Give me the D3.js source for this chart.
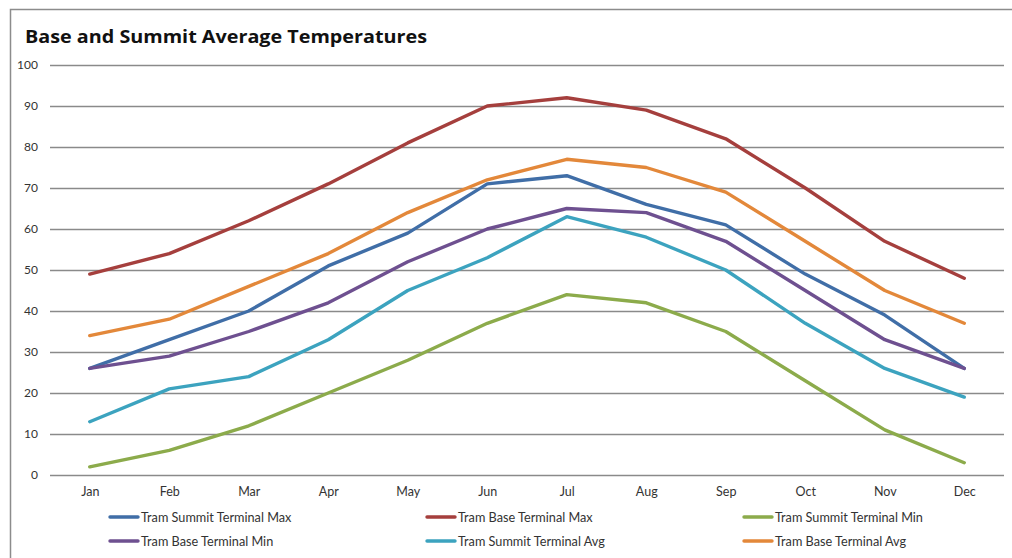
<!DOCTYPE html>
<html>
<head>
<meta charset="utf-8">
<script src="https://cdn.jsdelivr.net/npm/d3@7"></script>
<style>
  html, body { margin: 0; padding: 0; background: #fff; }
  svg { display: block; }
</style>
</head>
<body>
<script>
// Monthly average temperatures (°F) at the tram base and summit terminals
const months = ["Jan","Feb","Mar","Apr","May","Jun","Jul","Aug","Sep","Oct","Nov","Dec"];
const summitMax = [26, 33, 40, 51, 59, 71, 73, 66, 61, 49, 39, 26];
const baseMax   = [49, 54, 62, 71, 81, 90, 92, 89, 82, 70, 57, 48];
const summitMin = [2, 6, 12, 20, 28, 37, 44, 42, 35, 23, 11, 3];
const baseMin   = [26, 29, 35, 42, 52, 60, 65, 64, 57, 45, 33, 26];
const summitAvg = [13, 21, 24, 33, 45, 53, 63, 58, 50, 37, 26, 19];
const baseAvg   = [34, 38, 46, 54, 64, 72, 77, 75, 69, 57, 45, 37];
const yTicks = [0, 10, 20, 30, 40, 50, 60, 70, 80, 90, 100];

const series = [
  { name: "Tram Summit Terminal Max", values: summitMax, color: "#406ea7" },
  { name: "Tram Base Terminal Max",   values: baseMax,   color: "#a53f3d" },
  { name: "Tram Summit Terminal Min", values: summitMin, color: "#8cab4b" },
  { name: "Tram Base Terminal Min",   values: baseMin,   color: "#6e5090" },
  { name: "Tram Summit Terminal Avg", values: summitAvg, color: "#3ca3bf" },
  { name: "Tram Base Terminal Avg",   values: baseAvg,   color: "#e3883a" }
];

const W = 1012, H = 558;
const plot = { left: 50, right: 1004, top: 65, bottom: 475 };
const font = "Lato, 'Open Sans', sans-serif";

const svg = d3.select("body").append("svg")
  .attr("width", W).attr("height", H);

// chart frame (left and top edges visible)
svg.append("path")
  .attr("d", `M10.5,${H} L10.5,9.5 L${W},9.5`)
  .attr("fill", "none").attr("stroke", "#8c8c8c").attr("stroke-width", 1.5);

svg.append("text")
  .attr("x", 25).attr("y", 43)
  .attr("font-family", "'Open Sans', sans-serif").attr("font-weight", "bold")
  .attr("font-size", 18.5).attr("fill", "#111")
  .attr("textLength", 402).attr("lengthAdjust", "spacingAndGlyphs")
  .text("Base and Summit Average Temperatures");

const x = d3.scalePoint().domain(months)
  .range([plot.left, plot.right]).padding(0.5);
const y = d3.scaleLinear().domain([0, 100])
  .range([plot.bottom, plot.top]);

// y axis: gridlines and labels
const yAxis = d3.axisLeft(y).tickValues(yTicks)
  .tickSize(-(plot.right - plot.left)).tickPadding(12);
const gy = svg.append("g").attr("transform", `translate(${plot.left},0)`).call(yAxis);
gy.select(".domain").remove();
gy.selectAll(".tick line").attr("stroke", "#8a8a8a").attr("stroke-width", 1.3);
gy.selectAll(".tick text").attr("font-family", font).attr("font-size", 12)
  .attr("fill", "#333").attr("x", -12);

// x axis labels
const xAxis = d3.axisBottom(x).tickSize(0).tickPadding(12);
const gx = svg.append("g").attr("transform", `translate(0,${plot.bottom})`).call(xAxis);
gx.select(".domain").remove();
gx.selectAll(".tick text").attr("font-family", font).attr("font-size", 12.5).attr("fill", "#333");

// series lines
const line = d3.line()
  .x((d, i) => x(months[i]))
  .y(d => y(d));

svg.append("g").selectAll("path")
  .data(series)
  .join("path")
  .attr("d", d => line(d.values))
  .attr("fill", "none")
  .attr("stroke", d => d.color)
  .attr("stroke-width", 3.4)
  .attr("stroke-linejoin", "round")
  .attr("stroke-linecap", "round");

// legend: three columns, two rows
const legX = [110, 427, 744];
const legY = [517, 541];
const leg = svg.append("g").selectAll("g")
  .data(series)
  .join("g")
  .attr("transform", (d, i) => `translate(${legX[i % 3]},${legY[Math.floor(i / 3)]})`);
leg.append("line")
  .attr("x1", 0).attr("x2", 28).attr("y1", 0).attr("y2", 0)
  .attr("stroke", d => d.color).attr("stroke-width", 3.4)
  .attr("stroke-linecap", "round");
leg.append("text")
  .attr("x", 31).attr("y", 4.5)
  .attr("font-family", font).attr("font-size", 12.7).attr("fill", "#333")
  .text(d => d.name);
</script>
</body>
</html>
